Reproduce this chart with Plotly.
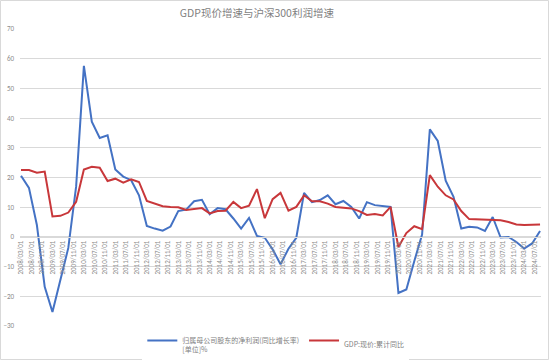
import pandas as pd
import plotly.graph_objects as go

dates = pd.date_range("2008-03-01", periods=67, freq="3MS")

profit_growth = [
    20.6, 16.5, 4.0, -16.8,
    -25.3, -14.0, -3.7, 17.0,
    57.6, 38.8, 33.3, 34.2,
    22.7, 20.3, 19.1, 14.0,
    3.7, 2.8, 2.1, 3.5,
    8.7, 9.2, 12.0, 12.5,
    7.6, 9.7, 9.3, 6.2,
    2.8, 6.4, 0.3, -0.3,
    -4.2, -9.2, -4.0, -0.3,
    14.8, 11.7, 12.4, 14.0,
    11.0, 12.1, 10.1, 6.2,
    11.7, 10.7, 10.5, 10.1,
    -18.9, -17.7, -8.2, 0.8,
    36.2, 32.3, 18.9, 13.5,
    2.8, 3.4, 3.2, 2.0,
    6.7, -0.2, 0.0, -1.7,
    -3.9, -2.2, 2.0,
]

gdp_growth = [
    22.5, 22.5, 21.6, 22.0,
    6.9, 7.1, 8.2, 11.8,
    22.7, 23.6, 23.3, 18.8,
    19.6, 18.3, 19.4, 18.5,
    12.1, 11.3, 10.3, 10.1,
    10.0, 9.1, 9.5, 9.7,
    7.9, 8.7, 8.8, 11.8,
    9.7, 10.5, 16.1, 6.3,
    12.7, 14.8, 8.8, 10.1,
    14.0, 12.0, 12.0, 11.2,
    10.1, 9.8, 9.6, 8.7,
    7.4, 7.7, 7.2, 10.1,
    -3.4, 1.3, 3.6, 2.6,
    20.8, 16.9, 14.0, 12.6,
    8.7, 6.0, 5.9, 5.8,
    5.9, 5.6, 5.0, 4.2,
    4.0, 4.0, 4.2,
]

series_names = ["归属母公司股东的净利润(同比增长率)<br>[单位]%", "GDP:现价:累计同比"]
title_text = "GDP现价增速与沪深300利润增速"

FONT = "Calibri, 'Noto Sans CJK SC', sans-serif"

fig = go.Figure()
fig.add_trace(go.Scatter(x=dates, y=profit_growth, mode="lines", name=series_names[0],
                         line=dict(color="#4472C4", width=2)))
fig.add_trace(go.Scatter(x=dates, y=gdp_growth, mode="lines", name=series_names[1],
                         line=dict(color="#C8373A", width=2)))

ymin, ymax = -30, 70
fig.update_layout(
    width=550, height=360,
    margin=dict(l=20, r=9, t=29, b=34, autoexpand=False),
    paper_bgcolor="white", plot_bgcolor="white",
    font=dict(family=FONT, color="#7f7f7f", size=7),
    title=dict(text=title_text, x=0.467, xanchor="center", y=0.962, yanchor="middle",
               font=dict(family="'Noto Sans CJK SC', sans-serif", size=10.5, color="#7f7f7f")),
    showlegend=True,
    legend=dict(orientation="h", x=0.491, xanchor="center", y=-0.012, yanchor="top",
                font=dict(family="'Noto Sans CJK SC', sans-serif", size=7, color="#7f7f7f"),
                itemwidth=30, tracegroupgap=0, valign="top"),
    xaxis=dict(
        type="date",
        range=["2008-02-18", "2024-09-12"],
        tick0="2008-03-01", dtick="M4", tickformat="%Y/%m/%d",
        tickangle=-90, tickfont=dict(size=7, color="#8c8c8c"),
        showgrid=False, zeroline=False,
        showline=True, linecolor="#d9d9d9", linewidth=1,
        anchor="free", position=(0 - ymin) / (ymax - ymin),
        ticks="", ticklen=0, automargin=False,
    ),
    yaxis=dict(
        range=[ymin, ymax], dtick=10, tick0=0,
        showgrid=True, gridcolor="#d9d9d9", gridwidth=1,
        zeroline=False, showline=False, automargin=False,
        tickfont=dict(size=7, color="#8c8c8c"), ticklabelstandoff=5,
    ),
    shapes=[dict(type="rect", xref="paper", yref="paper",
                 x0=-19.5 / 521, x1=1 + 7.5 / 521, y0=-33.5 / 297, y1=1 + 28.5 / 297,
                 line=dict(color="#d9d9d9", width=1), fillcolor="rgba(0,0,0,0)", layer="below")],
)

fig.write_html("out.html", config={"displayModeBar": False},
               post_script="document.body.style.margin='0';document.documentElement.style.margin='0';")
